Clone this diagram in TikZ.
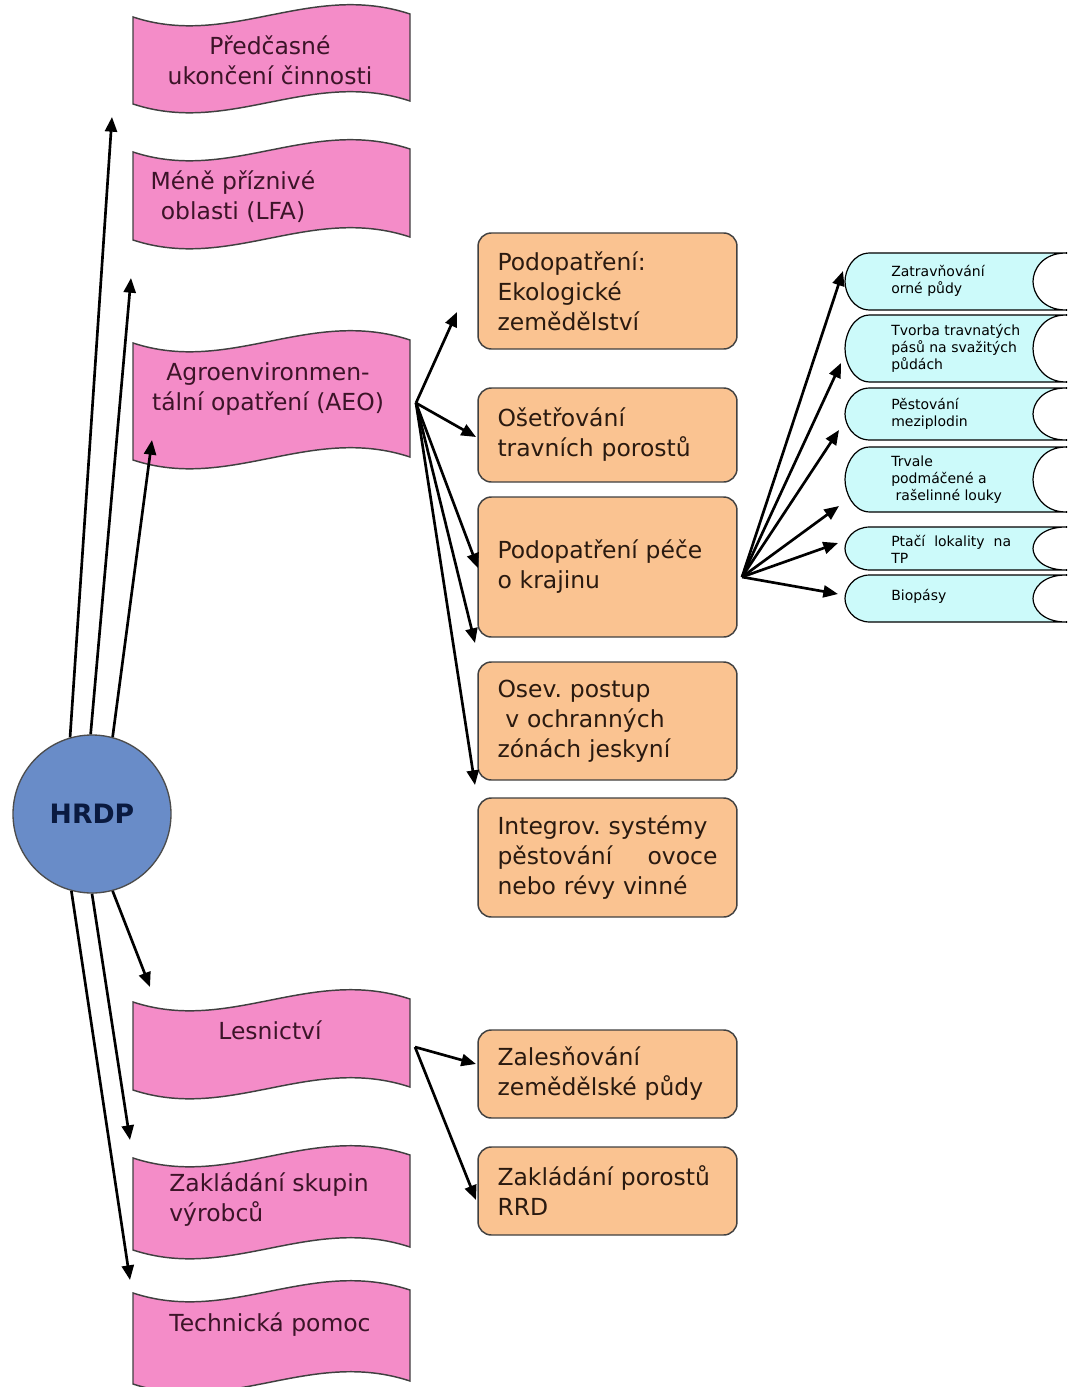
\documentclass[tikz,border=0pt]{standalone}
\usepackage{fontspec}
\setmainfont{DejaVu Sans}
\usetikzlibrary{arrows.meta}
\frenchspacing

\definecolor{pinkfill}{HTML}{F48CC8}
\definecolor{orangefill}{HTML}{FAC391}
\definecolor{cyanfill}{HTML}{CCFAFA}
\definecolor{circlefill}{HTML}{698CC8}
\definecolor{pinktext}{HTML}{3C1428}
\definecolor{orangetext}{HTML}{2A1A10}
\definecolor{hrdptext}{HTML}{0A1A40}

% wavy box: left top y, left bottom y
\newcommand{\pinkwave}[2]{%
  \draw[pinkbox] (133,#1) .. controls (230,#1+32) and (310,#1-36) .. (410,#1-3)
    -- (410,#2-3) .. controls (310,#2-36) and (230,#2+32) .. (133,#2) -- cycle;}

% stored data shape: top y, bottom y
\newcommand{\cyanstore}[2]{%
  \draw[cyanbox] (870,#1) -- (1066,#1)
    .. controls (1042,#1) and (1033,{0.7*#1+0.3*#2}) .. (1033,{(#1+#2)/2})
    .. controls (1033,{0.3*#1+0.7*#2}) and (1042,#2) .. (1066,#2)
    -- (870,#2)
    .. controls (853,#2) and (845,{0.3*#1+0.7*#2}) .. (845,{(#1+#2)/2})
    .. controls (845,{0.7*#1+0.3*#2}) and (853,#1) .. cycle;
  \draw[line width=0.9pt] (1066,#1) -- (1075,#1) (1066,#2) -- (1075,#2);}

\begin{document}
\begin{tikzpicture}[x=0.75pt,y=-0.75pt,
  arr/.style={line width=2pt, -{Triangle[length=11pt,width=9pt]}},
  pinkbox/.style={draw=black!75, line width=1.1pt, fill=pinkfill},
  pinktxt/.style={text=pinktext, align=center, font=\fontsize{17.6}{22.5}\selectfont},
  obox/.style={draw=black!75, line width=1.1pt, fill=orangefill, rounded corners=10pt,
    text width=165pt, inner xsep=14.6pt, align=left, text=orangetext,
    font=\fontsize{17.6}{22.5}\selectfont},
  cyanbox/.style={draw=black, line width=0.9pt, fill=cyanfill},
  ctxt/.style={anchor=west, align=left, inner sep=0pt, text=black,
    font=\fontsize{10.5}{12.75}\selectfont}]

\useasboundingbox (0,0) rectangle (1067,1387);
\clip (0,0) rectangle (1067,1387);

% left column
\begin{scope}
\pinkwave{17}{104}
\pinkwave{152}{240}
\pinkwave{343}{460}
\pinkwave{1002}{1090}
\pinkwave{1158}{1250}
\pinkwave{1293}{1384}

\node[pinktxt] (pre) at (270,60) {Předčasné\\ukončení činnosti};
\node[pinktxt] (lfa) at (233,197) {Méně příznivé\\oblasti (LFA)};
\node[pinktxt] (aeo) at (268,389) {Agroenvironmen-\\tální opatření (AEO)};
\node[pinktxt] (les) at (270,1030) {Lesnictví};
\node[pinktxt, align=left] (skup) at (269,1200) {Zakládání skupin\\výrobců};
\node[pinktxt] (tech) at (270,1325) {Technická pomoc};

\node[circle, draw=black!70, line width=1pt, fill=circlefill, minimum size=118.5pt,
  text=hrdptext, font=\bfseries\fontsize{20}{24}\selectfont] (hrdp) at (92,814) {HRDP};
\end{scope}

% middle column
\begin{scope}
\node[obox, minimum height=87pt] (eko) at (607.5,291) {Podopatření:\\Ekologické\\zemědělství};
\node[obox, minimum height=70.5pt] (tpp) at (607.5,435) {Ošetřování\\travních porostů};
\node[obox, minimum height=105pt] (kraj) at (607.5,567) {Podopatření péče\\o krajinu};
\node[obox, minimum height=88.5pt] (osev) at (607.5,721) {Osev. postup\\\ v ochranných\\zónách jeskyní};
\node[obox, minimum height=89.25pt] (ovoce) at (607.5,857.5) {Integrov. systémy\\pěstování\hfill ovoce\\nebo révy vinné};
\node[obox, minimum height=66pt] (zal) at (607.5,1074) {Zalesňování\\zemědělské půdy};
\node[obox, minimum height=66pt] (rrd) at (607.5,1191) {Zakládání porostů\\RRD};
\end{scope}

% right column
\begin{scope}
\cyanstore{253}{310}
\cyanstore{315}{382}
\cyanstore{388}{440}
\cyanstore{447}{512}
\cyanstore{527}{570}
\cyanstore{575}{622}

\node[ctxt] (zatr) at (891,281) {Zatravňování\\orné půdy};
\node[ctxt] (pasy) at (891,348) {Tvorba travnatých\\pásů na svažitých\\půdách};
\node[ctxt] (mezi) at (891,414) {Pěstování\\meziplodin};
\node[ctxt] (louky) at (891,480) {Trvale\\podmáčené a\\\ rašelinné louky};
\node[ctxt] (ptaci) at (891,549) {Ptačí\ \ lokality\ \ na\\TP};
\node[ctxt] (bio) at (891,596) {Biopásy};
\end{scope}

% arrow ends
\coordinate (p1end) at (112,117);
\coordinate (p2end) at (131,278);
\coordinate (p3end) at (152,440);
\coordinate (p4end) at (150,987);
\coordinate (p5end) at (130,1140);
\coordinate (p6end) at (130,1280);

\coordinate (aeoout) at (416,403);
\coordinate (a1) at (457,312);
\coordinate (a2) at (476,437);
\coordinate (a3) at (478,568);
\coordinate (a4) at (475,643);
\coordinate (a5) at (475,785);

\coordinate (lesout) at (415,1047);
\coordinate (l1) at (476,1064);
\coordinate (l2) at (476,1200);

\coordinate (kout) at (742,577);
\coordinate (k1) at (843,271);
\coordinate (k2) at (841,363);
\coordinate (k3) at (839,430);
\coordinate (k4) at (839,506);
\coordinate (k5) at (838,543);
\coordinate (k6) at (838,594);

\draw[arr] (hrdp.106) -- (p1end);
\draw[arr] (hrdp.91) -- (p2end);
\draw[arr] (hrdp.75) -- (p3end);
\draw[arr] (hrdp.-75) -- (p4end);
\draw[arr] (hrdp.-90) -- (p5end);
\draw[arr] (hrdp.-105) -- (p6end);

\foreach \i in {1,...,5}
  \draw[arr] (aeoout) -- (a\i);

\draw[arr] (lesout) -- (l1);
\draw[arr] (lesout) -- (l2);

\foreach \i in {1,...,6}
  \draw[arr] (kout) -- (k\i);

\end{tikzpicture}
\end{document}
